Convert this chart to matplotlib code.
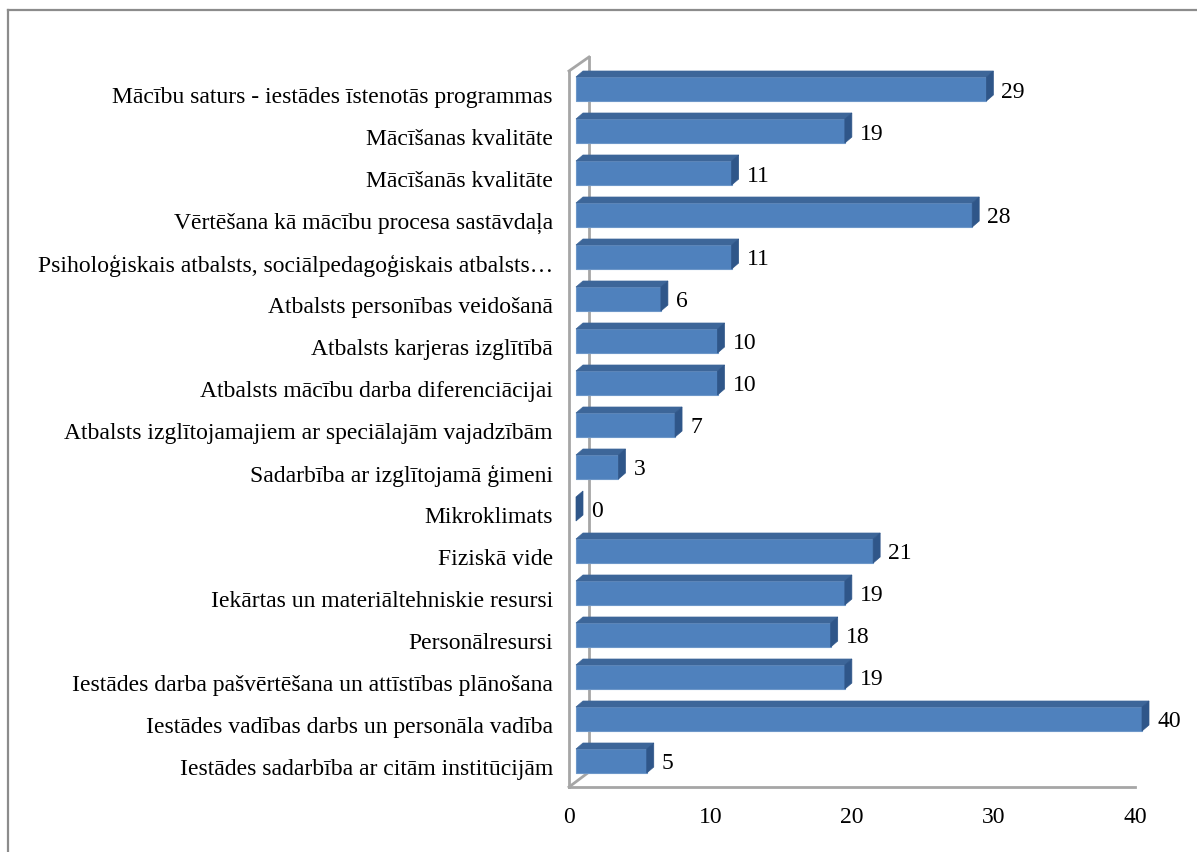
import matplotlib
matplotlib.use("Agg")
import matplotlib.pyplot as plt
from matplotlib.patches import Polygon, Rectangle
from matplotlib.lines import Line2D
from matplotlib.transforms import ScaledTranslation

categories = [
    "Mācību saturs - iestādes īstenotās programmas",
    "Mācīšanas kvalitāte",
    "Mācīšanās kvalitāte",
    "Vērtēšana kā mācību procesa sastāvdaļa",
    "Psiholoģiskais atbalsts, sociālpedagoģiskais atbalsts…",
    "Atbalsts personības veidošanā",
    "Atbalsts karjeras izglītībā",
    "Atbalsts mācību darba diferenciācijai",
    "Atbalsts izglītojamajiem ar speciālajām vajadzībām",
    "Sadarbība ar izglītojamā ģimeni",
    "Mikroklimats",
    "Fiziskā vide",
    "Iekārtas un materiāltehniskie resursi",
    "Personālresursi",
    "Iestādes darba pašvērtēšana un attīstības plānošana",
    "Iestādes vadības darbs un personāla vadība",
    "Iestādes sadarbība ar citām institūcijām",
]
values = [29, 19, 11, 28, 11, 6, 10, 10, 7, 3, 0, 21, 19, 18, 19, 40, 5]
xticks = [0, 10, 20, 30, 40]

FONT = "Liberation Serif"
FS = 17
W, H = 1197, 853
fig = plt.figure(figsize=(W / 100, H / 100), dpi=100)

# pixel geometry (from top-left)
ax_l, ax_r = 569, 1135
ax_top, ax_bot = 58, 788
row0, pitch = 90, 42
ppx = (ax_r - ax_l) / 40.0

def dx(px):
    return px / ppx

def dy(px):
    return px / pitch

ax = fig.add_axes([ax_l / W, 1 - ax_bot / H, (ax_r - ax_l) / W, (ax_bot - ax_top) / H])
ax.set_xlim(0, 40)
ax.set_ylim((ax_bot - row0) / pitch, (ax_top - row0) / pitch)
for s in ax.spines.values():
    s.set_visible(False)
ax.patch.set_visible(False)

# walls / floor
wall_c = "#a6a6a6"
yb = (ax_bot - row0) / pitch
yt_front = (72 - row0) / pitch
yt_back = (58 - row0) / pitch
yb_back = (773 - row0) / pitch
xb = dx(20)
lw = 2.0
ax.plot([0, 0], [yb, yt_front], color=wall_c, lw=lw, clip_on=False, zorder=1)
ax.plot([xb, xb], [yb_back, yt_back], color=wall_c, lw=lw, clip_on=False, zorder=1)
ax.plot([0, xb], [yt_front, yt_back], color=wall_c, lw=lw, clip_on=False, zorder=1)
ax.plot([0, xb], [yb, yb_back], color=wall_c, lw=lw, clip_on=False, zorder=1)
ax.plot([0, 40], [yb, yb], color=wall_c, lw=lw, clip_on=False, zorder=1)

front_c = "#4f81bd"
top_c = "#3d6699"
side_c = "#2f5689"
x0 = dx(7)
h = dy(24)
ddx = dx(7)
ddy = dy(6)
for i, v in enumerate(values):
    top = i - h / 2
    bot = i + h / 2
    if v > 0:
        ax.add_patch(Rectangle((x0, top), v, h, facecolor=front_c, edgecolor="#6d97c9",
                               lw=0.8, zorder=3, clip_on=False))
        ax.add_patch(Polygon([(x0, top), (x0 + v, top), (x0 + v + ddx, top - ddy), (x0 + ddx, top - ddy)],
                             closed=True, facecolor=top_c, edgecolor=top_c, lw=0.5, zorder=3, clip_on=False))
    ax.add_patch(Polygon([(x0 + v, top), (x0 + v + ddx, top - ddy), (x0 + v + ddx, bot - ddy), (x0 + v, bot)],
                         closed=True, facecolor=side_c, edgecolor=side_c, lw=0.5, zorder=3, clip_on=False))
    ax.text(x0 + v + ddx + dx(8), i + dy(2), str(v), ha="left", va="center",
            fontsize=FS, family=FONT, color="black", zorder=4, clip_on=False)

ax.set_yticks(range(len(categories)))
ax.set_yticklabels(categories, family=FONT, fontsize=FS)
ax.tick_params(axis="y", length=0, pad=16 * 0.72)
shift = ScaledTranslation(0, -5 / 100, fig.dpi_scale_trans)
for lab in ax.get_yticklabels():
    lab.set_transform(lab.get_transform() + shift)
ax.set_xticks(xticks)
ax.set_xticklabels([str(t) for t in xticks], family=FONT, fontsize=FS)
ax.tick_params(axis="x", length=0, pad=19 * 0.72)

# outer frame (top and left edges visible)
fc = "#8c8c8c"
fig.add_artist(Line2D([8 / W, 1], [1 - 11 / H, 1 - 11 / H], color=fc, lw=1.6, transform=fig.transFigure))
fig.add_artist(Line2D([8 / W, 8 / W], [0, 1 - 11 / H], color=fc, lw=1.6, transform=fig.transFigure))

fig.savefig("out.png", dpi=100)
